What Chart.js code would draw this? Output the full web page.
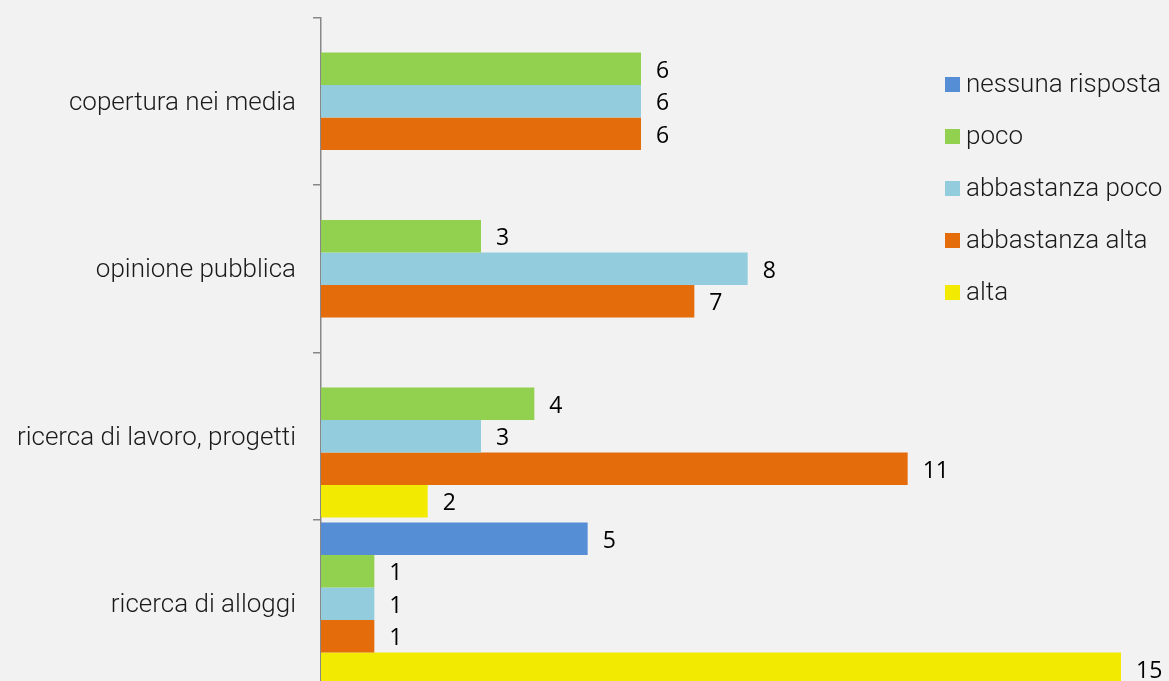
<!DOCTYPE html>
<html>
<head>
<meta charset="utf-8">
<script src="https://cdn.jsdelivr.net/npm/chart.js@4/dist/chart.umd.min.js"></script>
<style>
  html, body { margin: 0; padding: 0; background: #f2f2f2; overflow: hidden; }
  #wrap { width: 1169px; height: 690px; }
</style>
</head>
<body>
<div id="wrap"><canvas id="chart" width="1169" height="690"></canvas></div>
<script>
// categorie (dall'alto verso il basso)
const categories = ['copertura nei media', 'opinione pubblica', 'ricerca di lavoro, progetti', 'ricerca di alloggi'];

// valori per serie (null = nessuna barra)
const nessunaRisposta  = [null, null, null, 5];
const poco             = [6, 3, 4, 1];
const abbastanzaPoco   = [6, 8, 3, 1];
const abbastanzaAlta   = [6, 7, 11, 1];
const alta             = [null, null, 2, 15];

const seriesNames  = ['nessuna risposta', 'poco', 'abbastanza poco', 'abbastanza alta', 'alta'];
const seriesData   = [nessunaRisposta, poco, abbastanzaPoco, abbastanzaAlta, alta];
const seriesColors = ['#558ed5', '#92d050', '#93cddd', '#e46c0a', '#f2ea00'];

const labelFont = '300 26px Roboto, "Liberation Sans", sans-serif';

// etichette con il valore a destra di ogni barra
const valueLabels = {
    id: 'valueLabels',
    afterDatasetsDraw(chart) {
        const ctx = chart.ctx;
        ctx.save();
        ctx.font = '23px "Open Sans", "Noto Sans", sans-serif';
        ctx.fillStyle = '#000';
        ctx.textBaseline = 'middle';
        ctx.textAlign = 'left';
        chart.data.datasets.forEach((ds, i) => {
            chart.getDatasetMeta(i).data.forEach((bar, j) => {
                const v = ds.data[j];
                if (v === null || v === undefined) return;
                ctx.fillText(String(v), bar.x + 15, bar.y + 2.5);
            });
        });
        ctx.restore();
    }
};

// legenda disegnata sopra l'area del grafico
const sideLegend = {
    id: 'sideLegend',
    afterDraw(chart) {
        const ctx = chart.ctx;
        ctx.save();
        ctx.font = labelFont;
        ctx.textBaseline = 'middle';
        chart.data.datasets.forEach((ds, i) => {
            const y = 84.5 + i * 52;
            ctx.fillStyle = ds.backgroundColor;
            ctx.fillRect(945, y - 7.5, 15, 15);
            ctx.fillStyle = '#1a1a1a';
            ctx.fillText(ds.label, 966, y + 1);
        });
        ctx.restore();
    }
};

new Chart(document.getElementById('chart'), {
    type: 'bar',
    data: {
        labels: categories,
        datasets: seriesData.map((d, i) => ({
            label: seriesNames[i],
            data: d,
            backgroundColor: seriesColors[i],
            borderWidth: 0,
            categoryPercentage: 0.97,
            barPercentage: 1.0
        }))
    },
    options: {
        indexAxis: 'y',
        responsive: false,
        animation: false,
        events: [],
        layout: { padding: { top: 17.5, bottom: 2.5, right: 48, left: 0 } },
        scales: {
            x: {
                display: false,
                min: 0,
                max: 15
            },
            y: {
                afterFit: (scale) => {
                    scale.width = 321;
                    scale.paddingTop = 0;
                    scale.paddingBottom = 0;
                },
                grid: {
                    drawOnChartArea: false,
                    drawTicks: true,
                    tickLength: 8,
                    color: '#888',
                    lineWidth: 1.5
                },
                border: { display: true, color: '#888', width: 1.5 },
                ticks: {
                    padding: 17,
                    labelOffset: 2,
                    color: '#1a1a1a',
                    font: { family: 'Roboto, "Liberation Sans", sans-serif', size: 26, weight: 300 }
                }
            }
        },
        plugins: {
            legend: { display: false },
            tooltip: { enabled: false }
        }
    },
    plugins: [valueLabels, sideLegend]
});
</script>
</body>
</html>
